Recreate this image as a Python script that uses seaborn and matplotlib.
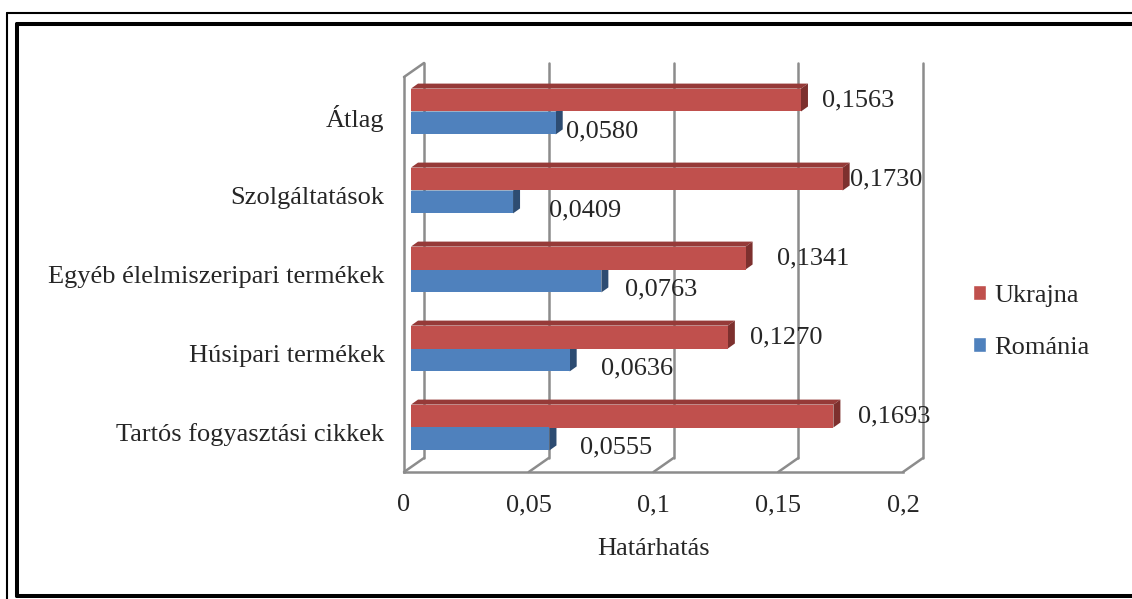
import matplotlib

matplotlib.use("Agg")

import matplotlib.pyplot as plt
from matplotlib.lines import Line2D
from matplotlib.patches import Patch, Polygon
from matplotlib.transforms import IdentityTransform, offset_copy
import pandas as pd
import seaborn as sns

categories = [
    "Átlag",
    "Szolgáltatások",
    "Egyéb élelmiszeripari termékek",
    "Húsipari termékek",
    "Tartós fogyasztási cikkek",
]
ukrajna = [0.1563, 0.1730, 0.1341, 0.1270, 0.1693]
romania = [0.0580, 0.0409, 0.0763, 0.0636, 0.0555]
series = ["Ukrajna", "Románia"]
x_ticks = [0, 0.05, 0.1, 0.15, 0.2]
x_tick_labels = ["0", "0,05", "0,1", "0,15", "0,2"]
x_title = "Határhatás"

# gap in pixels between bar end and its value label (as Excel placed them)
label_gap = {
    "Ukrajna": [14, 0, 24, 15, 18],
    "Románia": [3, 29, 17, 24, 24],
}

FRONT = {"Ukrajna": "#C0504D", "Románia": "#4F81BD"}
TOP = {"Ukrajna": "#963A38", "Románia": "#3B6291"}
SIDE = {"Ukrajna": "#7D302E", "Románia": "#2D4C72"}
GRID = "#8C8C8C"
FS = 19

df = pd.DataFrame({
    "category": categories * 2,
    "value": ukrajna + romania,
    "country": [series[0]] * len(categories) + [series[1]] * len(categories),
})

sns.set_style("white")
plt.rcParams["font.family"] = ["Liberation Serif", "DejaVu Serif"]

W, H = 1132, 599
fig = plt.figure(figsize=(W / 100, H / 100), dpi=100)
ax = fig.add_axes([404 / W, 1 - 472 / H, 499 / W, 395 / H])
sns.barplot(data=df, x="value", y="category", hue="country", hue_order=series,
            palette=FRONT, width=0.58, orient="h", saturation=1, legend=False,
            ax=ax, zorder=3)
ax.set_xlim(0, 0.2)
ax.set_ylim(len(categories) - 0.5, -0.5)
fig.canvas.draw()

# pixel offsets of the fake 3d depth
BACK = (20, 14)
SHIFT = (7, 5)
DEPTH = (7, 5)

to_px = ax.transData.transform
px_bot = to_px((0, len(categories) - 0.5))[1]
px_top = to_px((0, -0.5))[1]
for xt in x_ticks:
    px = to_px((xt, 0))[0]
    ax.add_line(Line2D([px + BACK[0]] * 2, [px_bot + BACK[1], px_top + BACK[1]],
                       transform=IdentityTransform(), color=GRID, lw=1.8,
                       clip_on=False, zorder=1))
    ax.add_line(Line2D([px, px + BACK[0]], [px_bot, px_bot + BACK[1]],
                       transform=IdentityTransform(), color=GRID, lw=1.8,
                       clip_on=False, zorder=1))
px0 = to_px((0, 0))[0]
ax.add_line(Line2D([px0, px0 + BACK[0]], [px_top, px_top + BACK[1]],
                   transform=IdentityTransform(), color=GRID, lw=1.8,
                   clip_on=False, zorder=1))

shifted = offset_copy(ax.transData, fig=fig, x=SHIFT[0], y=SHIFT[1], units="dots")
for container, name in zip(ax.containers, series):
    for i, (bar, val) in enumerate(zip(container.patches, container.datavalues)):
        bar.set_transform(shifted)
        bar.set_edgecolor("none")
        (l, b), (r, t) = shifted.transform(
            [(bar.get_x(), bar.get_y() + bar.get_height()),
             (bar.get_x() + bar.get_width(), bar.get_y())])
        top = Polygon([(l, t), (r, t), (r + DEPTH[0], t + DEPTH[1]), (l + DEPTH[0], t + DEPTH[1])],
                      closed=True, transform=IdentityTransform(), facecolor=TOP[name],
                      edgecolor="none", clip_on=False, zorder=2)
        side = Polygon([(r, b), (r, t), (r + DEPTH[0], t + DEPTH[1]), (r + DEPTH[0], b + DEPTH[1])],
                       closed=True, transform=IdentityTransform(), facecolor=SIDE[name],
                       edgecolor="none", clip_on=False, zorder=2)
        ax.add_patch(top)
        ax.add_patch(side)
        lx = r + DEPTH[0] + label_gap[name][i]
        ly = (b + t) / 2 if name == series[0] else (b + t) / 2 - 8
        ax.text(lx, ly, f"{val:.4f}".replace(".", ","), transform=IdentityTransform(),
                ha="left", va="center", fontsize=FS, clip_on=False)

for side_name in ["top", "right"]:
    ax.spines[side_name].set_visible(False)
for side_name in ["left", "bottom"]:
    ax.spines[side_name].set_color(GRID)
    ax.spines[side_name].set_linewidth(1.8)

ax.set_xticks(x_ticks)
ax.set_xticklabels(x_tick_labels, fontsize=FS)
ax.set_yticks(range(len(categories)))
ax.set_yticklabels(categories, fontsize=FS)
ax.set_yticks([i - 0.5 for i in range(len(categories) + 1)], minor=True)
ax.tick_params(axis="x", length=5, width=1.8, color=GRID, pad=11)
ax.tick_params(axis="y", which="major", length=0, pad=14)
ax.tick_params(axis="y", which="minor", length=6, width=1.8, color=GRID)
ax.set_xlabel(x_title, fontsize=FS, labelpad=16)
ax.set_ylabel("")
ax.grid(False)
ax.patch.set_alpha(0)

handles = [Patch(facecolor=FRONT[s], label=s) for s in series]
ax.legend(handles=handles, loc="center left", bbox_to_anchor=(973 / W, 1 - 322 / H),
          bbox_transform=fig.transFigure, frameon=False, fontsize=FS,
          handlelength=0.5, handleheight=0.5, handletextpad=0.3,
          labelspacing=1.12, borderpad=0, borderaxespad=0)

# double frame around the chart area
fig.add_artist(Line2D([7 / W, 7 / W], [0, 1 - 13 / H], transform=fig.transFigure, color="black", lw=1.5))
fig.add_artist(Line2D([7 / W, 1], [1 - 13 / H, 1 - 13 / H], transform=fig.transFigure, color="black", lw=1.5))
fig.add_artist(Line2D([17 / W, 17 / W], [1 - 596 / H, 1 - 24 / H], transform=fig.transFigure, color="black", lw=2.9))
fig.add_artist(Line2D([17 / W, 1], [1 - 24 / H, 1 - 24 / H], transform=fig.transFigure, color="black", lw=2.9))
fig.add_artist(Line2D([17 / W, 1], [1 - 596 / H, 1 - 596 / H], transform=fig.transFigure, color="black", lw=2.9))

fig.savefig("out.png", dpi=100)
